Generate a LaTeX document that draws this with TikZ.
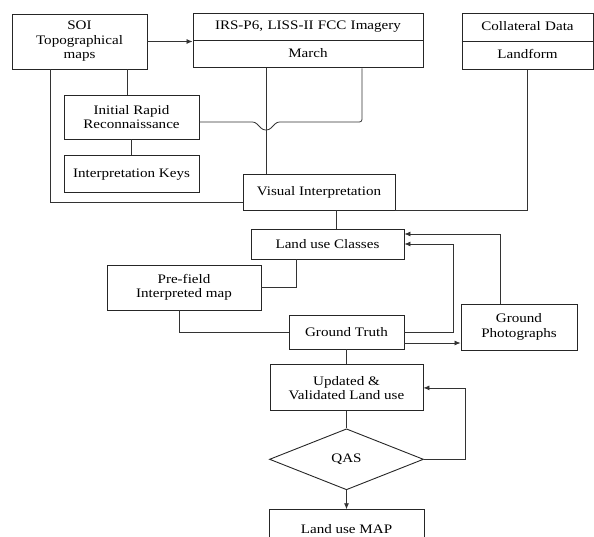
\documentclass[tikz,border=0pt]{standalone}
\usepackage{fontspec}
\setmainfont{Liberation Serif}[FakeStretch=1.16]
\usepackage{tikz}
\usetikzlibrary{shapes.geometric, shapes.multipart, arrows.meta, positioning}

\begin{document}
\begin{tikzpicture}[
  x=1pt, y=-1pt,
  font=\fontsize{13}{14.5}\selectfont,
  box/.style={rectangle, draw=black!85, line width=0.9pt, align=center,
             inner sep=2pt},
  splitbox/.style={rectangle split, rectangle split parts=2, draw=black!85,
             line width=0.9pt, align=center, inner xsep=7pt},
  decision/.style={diamond, draw=black!85, line width=0.9pt, aspect=2.5,
             inner sep=0pt, minimum width=154pt, minimum height=61pt},
  line/.style={draw=black!80, line width=0.8pt},
  arrow/.style={line, -{Latex[length=6pt, width=5pt]}}
]
\useasboundingbox (0,0) rectangle (594,537);

% sources
\node[box, minimum width=135pt, minimum height=55pt] (soi) at (79.5,41.5)
  {SOI\\Topographical\\maps};
\node[splitbox, text width=216pt, inner ysep=6pt] (irs) at (308,40.5)
  {\strut IRS-P6, LISS-II FCC Imagery\nodepart{two}\strut March};
\node[splitbox, text width=117pt, inner ysep=6.5pt] (col) at (527.5,41.5)
  {\strut Collateral Data\nodepart{two}\strut Landform};
\draw[line width=1.8pt, black!85] (col.text split west) -- (col.text split east);

% interpretation
\node[box, minimum width=135pt, minimum height=44pt] (recon) at (131.5,117)
  {Initial Rapid\\Reconnaissance};
\node[box, minimum width=135pt, minimum height=37pt, below=16pt of recon] (keys)
  {Interpretation Keys};
\node[box, minimum width=152pt, minimum height=36pt] (visual) at (319,192)
  {Visual Interpretation};

% classes and field check
\node[box, minimum width=153pt, minimum height=30pt] (classes) at (327.5,244)
  {Land use Classes};
\node[box, minimum width=154pt, minimum height=45pt] (prefield) at (184,287.5)
  {Pre-field\\Interpreted map};
\node[box, minimum width=115pt, minimum height=34pt] (truth) at (346.5,332)
  {Ground Truth};
\node[box, minimum width=116pt, minimum height=46pt] (photos) at (519,327)
  {Ground\\Photographs};

% output
\node[box, minimum width=153pt, minimum height=46pt, below=15pt of truth] (updated)
  {Updated \&\\Validated Land use};
\node[decision, below=17pt of updated] (qas) {QAS};
\node[box, minimum width=155pt, minimum height=38pt, below=19pt of qas] (landmap)
  {Land use MAP};

\coordinate (hop) at (266,122);
\coordinate (turn) at (362,122);

\draw[arrow] (soi.east) -- (soi.east -| irs.west);
\draw[line] (recon.north -| 127,0) -- (soi.south -| 127,0);
\draw[line] (recon.south) -- (keys.north);
\draw[line] ([xshift=-29.5pt]soi.south) |- ([yshift=-10pt]visual.west);
\draw[line] (irs.south -| hop) -- (visual.north -| hop);
\draw[line, rounded corners=2.5pt] (irs.south -| turn) -- (turn)
  -- ([xshift=11pt]hop) -- ([xshift=3pt, yshift=-8pt]hop)
  -- ([xshift=-3pt, yshift=-8pt]hop) -- ([xshift=-11pt]hop)
  -- (hop -| recon.east);
\draw[line] (col.south) |- (visual.south east);
\draw[line] ([xshift=17pt]visual.south) -- ([xshift=17pt]visual.south |- classes.north);
\draw[line] ([xshift=-31.5pt]classes.south) |- (prefield.east);
\draw[line] ([xshift=-5pt]prefield.south) |- (truth.west);
\draw[arrow] (truth.east) -- ++(49pt,0) |- (classes.east);
\draw[arrow] ([yshift=-11pt]truth.east) -- ([yshift=-11pt]truth.east -| photos.west);
\draw[arrow] ([xshift=-19pt]photos.north) |- ([yshift=10pt]classes.east);
\draw[line] (truth.south) -- (updated.north);
\draw[line] (updated.south) -- (qas.north);
\draw[arrow] (qas.east) -- ++(41pt,0) |- (updated.east);
\draw[arrow] (qas.south) -- (landmap.north);

\end{tikzpicture}
\end{document}
